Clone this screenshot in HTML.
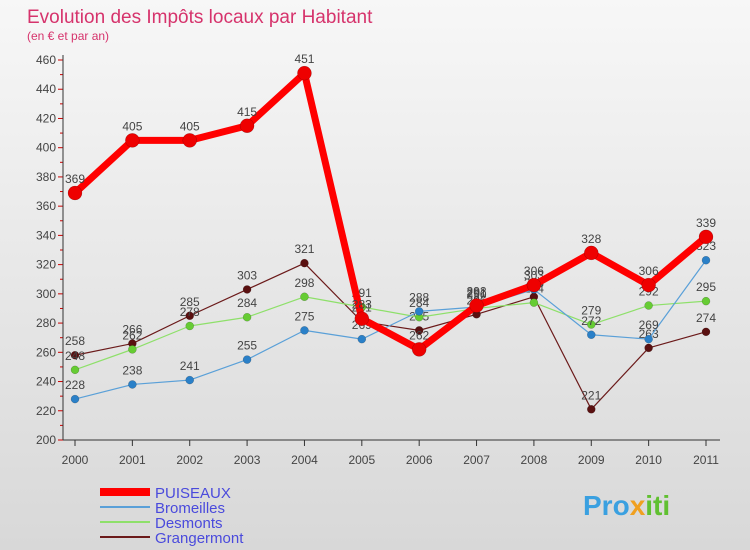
<!DOCTYPE html>
<html><head><meta charset="utf-8"><style>
body{margin:0;width:750px;height:550px;overflow:hidden;font-family:"Liberation Sans",sans-serif}
#bg{position:absolute;left:0;top:0;width:750px;height:550px;background:linear-gradient(#f7f7f7,#d8d8d8)}
</style></head><body>
<div id="bg"></div>
<svg id="c" width="750" height="550" style="position:absolute;left:0;top:0">
<text x="27" y="23" font-size="19" fill="#d6336c">Evolution des Impôts locaux par Habitant</text>
<text x="27" y="40" font-size="12" fill="#d6336c">(en € et par an)</text>
<g id="axes"></g><g id="series"></g><g id="legend"></g>
<text x="583" y="515" font-size="28" font-weight="bold" fill="#3aa0e0">Pro<tspan fill="#f0a020">x</tspan><tspan fill="#60c030">iti</tspan></text>
</svg>
<script>
const years=["2000","2001","2002","2003","2004","2005","2006","2007","2008","2009","2010","2011"];
const yTicks=[200,220,240,260,280,300,320,340,360,380,400,420,440,460];
const puiseaux=[369,405,405,415,451,283,262,292,306,328,306,339];
const bromeilles=[228,238,241,255,275,269,288,291,303,272,269,323];
const desmonts=[248,262,278,284,298,291,284,290,294,279,292,295];
const grangermont=[258,266,285,303,321,281,275,286,298,221,263,274];
const seriesNames=["PUISEAUX","Bromeilles","Desmonts","Grangermont"];
const NS="http://www.w3.org/2000/svg";
const X=i=>75+i*(706-75)/11;
const Y=v=>440-(v-200)*(380/260);
function mk(t,a,p){const e=document.createElementNS(NS,t);for(const k in a)e.setAttribute(k,a[k]);p.appendChild(e);return e;}
const ax=document.getElementById('axes');
yTicks.forEach(v=>{
  const g=mk('line',{x1:58,x2:63,y1:Y(v),y2:Y(v),stroke:'#c00'},ax);
  
  
  const t=mk('text',{x:56,y:Y(v)+4,'font-size':12,'text-anchor':'end',fill:'#444'},ax);t.textContent=v;
  
  
  if(v<460){mk('line',{x1:60,x2:63,y1:Y(v+10),y2:Y(v+10),stroke:'#c00'},ax);}
});
const ya=mk('line',{x1:63,x2:63,y1:55,y2:440,stroke:'#333'},ax);


const xa=mk('line',{x1:63,x2:720,y1:440,y2:440,stroke:'#333'},ax);


years.forEach((y,i)=>{
  mk('line',{x1:X(i),x2:X(i),y1:440,y2:446,stroke:'#333'},ax);
  const t=mk('text',{x:X(i),y:464,'font-size':12,'text-anchor':'middle',fill:'#444'},ax);t.textContent=y;
  
  
});
const sg=document.getElementById('series');
const defs=[[grangermont,'#6b1a1a','#5a1010',1.2,4],[desmonts,'#8ee06a','#66cc33',1.2,4],[bromeilles,'#5aa0d8','#2a80c8',1.2,4],[puiseaux,'#ff0000','#ee0000',7,7]];
const nm=['grangermont','desmonts','bromeilles','puiseaux'];
defs.forEach((d,k)=>{
  const [data,lc,pc,w,r]=d;
  const g=mk('g',{},sg);
  
  
  const p=mk('polyline',{points:data.map((v,i)=>X(i)+','+Y(v)).join(' '),fill:'none',stroke:lc,'stroke-width':w,'stroke-linejoin':'round'},g);
  
  
  data.forEach((v,i)=>{
    const c=mk('circle',{cx:X(i),cy:Y(v),r:r,fill:pc,stroke:'rgba(0,0,0,0.3)','stroke-width':0.5},g);
    
    
    const t=mk('text',{x:X(i),y:Y(v)-10,'font-size':12,'text-anchor':'middle',fill:'#444'},g);t.textContent=v;
    
    
  });
});
const lg=document.getElementById('legend');
const lc=['#ff0000','#5aa0d8','#8ee06a','#6b1a1a'],lw=[8,2,2,2];
seriesNames.forEach((n,i)=>{
  const yy=492+i*15;
  const g=mk('g',{},lg);
  
  
  mk('line',{x1:100,x2:150,y1:yy,y2:yy,stroke:lc[i],'stroke-width':lw[i]},g);
  const t=mk('text',{x:155,y:yy+6,'font-size':15,fill:'#4a4adc'},g);t.textContent=n;
});
</script>
</body></html>
